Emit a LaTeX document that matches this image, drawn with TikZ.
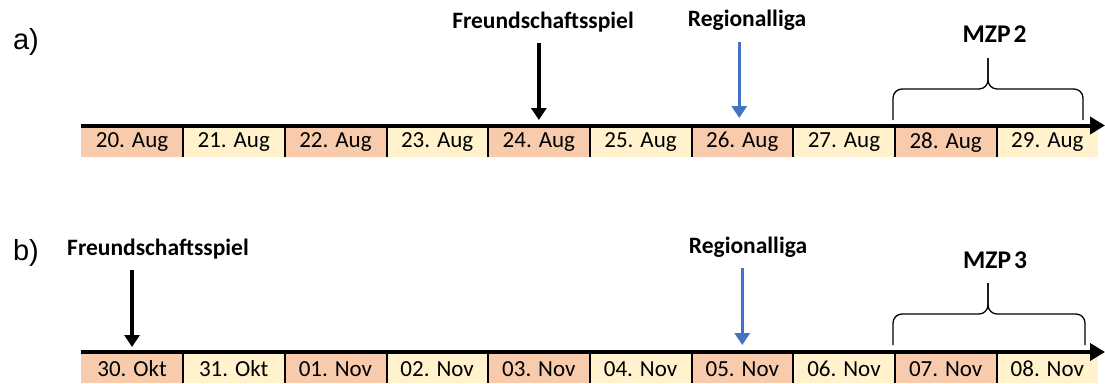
\documentclass[tikz,border=0pt]{standalone}
\usepackage{fontspec}
\setmainfont{Carlito}
\newfontfamily\arial{Liberation Sans}
\usepackage{xcolor}
\usetikzlibrary{arrows.meta}
\definecolor{lachs}{HTML}{F8CBAD}
\definecolor{creme}{HTML}{FFF2CC}
\definecolor{blau}{HTML}{4472C4}

\begin{document}
\begin{tikzpicture}[x=1pt,y=-1pt,
  tag/.style={minimum width=101.7pt,minimum height=29pt,inner sep=0pt,
    anchor=north west,font=\fontsize{23}{23}\selectfont},
  ereignis/.style={font=\bfseries\fontsize{23.5}{23.5}\selectfont,inner sep=0pt},
  mzp/.style={font=\bfseries\fontsize{25.5}{25.5}\selectfont,inner sep=0pt},
  teil/.style={font=\arial\fontsize{29}{29}\selectfont,inner sep=0pt},
  zeitachse/.style={line width=4pt,-{Triangle[length=15pt,width=17pt]}},
  pfeil/.style={line width=3.5pt,-{Triangle[length=12pt,width=15pt]}},
  klammer/.style={line width=1.3pt,rounded corners=9pt}]
\useasboundingbox (0,0) rectangle (1105,383);

% a)
\foreach \d [count=\i] in {20,...,29}{
\ifodd\i\def\farbe{lachs}\else\def\farbe{creme}\fi
\node[tag,fill=\farbe] (a\i) at ({81+(\i-1)*101.7},127.5) {\d. Aug};
}
\foreach \i in {1,...,9}{
\draw[line width=2pt] (a\i.north east)--(a\i.south east);
}
\coordinate (aanfang) at (81,125.5);
\coordinate (aende) at (1105,125.5);
\draw[zeitachse] (aanfang)--(aende);

\node[teil] (ateil) at (26,42) {a)};
\node[ereignis] (afs) at (543,22) {Freundschaftsspiel};
\node[ereignis] (arl) at (747,20) {Regionalliga};
\draw[pfeil] (a5.north |- 0,43)--([yshift=7.5pt]a5.north);
\draw[pfeil,blau] ([xshift=-3pt]a7.north |- 0,42)--([xshift=-3pt,yshift=9.5pt]a7.north);

\node[mzp] (amzp) at (994.5,34) {MZP\hspace{3pt}2};
\draw[klammer] (893,120)--(893,89)--(988,89)--(988,58);
\draw[klammer] (1083,120)--(1083,89)--(988,89)--(988,58);

% b)
\foreach \d [count=\i] in {30. Okt,31. Okt,01. Nov,02. Nov,03. Nov,04. Nov,05. Nov,06. Nov,07. Nov,08. Nov}{
\ifodd\i\def\farbe{lachs}\else\def\farbe{creme}\fi
\node[tag,fill=\farbe] (b\i) at ({81+(\i-1)*101.7},354) {\d};
}
\foreach \i in {1,...,9}{
\draw[line width=2pt] (b\i.north east)--(b\i.south east);
}
\coordinate (banfang) at (81,352);
\coordinate (bende) at (1105,352);
\draw[zeitachse] (banfang)--(bende);

\node[teil] (bteil) at (26,253) {b)};
\node[ereignis] (bfs) at (158,249) {Freundschaftsspiel};
\node[ereignis] (brl) at (748,247) {Regionalliga};
\draw[pfeil] (b1.north |- 0,270)--([yshift=7pt]b1.north);
\draw[pfeil,blau] (b7.north |- 0,268)--([yshift=9pt]b7.north);

\node[mzp] (bmzp) at (995,260) {MZP\hspace{3pt}3};
\draw[klammer] (893,345)--(893,314)--(988,314)--(988,283);
\draw[klammer] (1085,345)--(1085,314)--(988,314)--(988,283);
\end{tikzpicture}
\end{document}
